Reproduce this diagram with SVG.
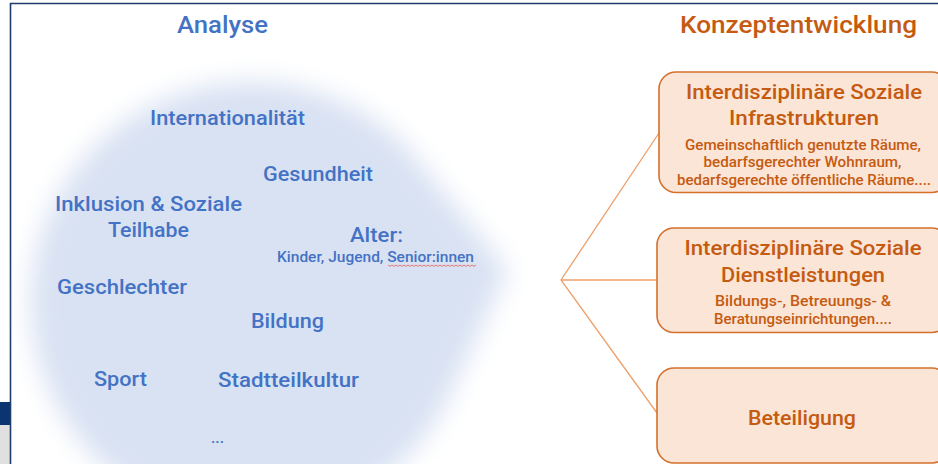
<svg xmlns="http://www.w3.org/2000/svg" width="938" height="464" viewBox="0 0 938 464">
<defs>
<filter id="soft" x="-20%" y="-20%" width="140%" height="140%">
<feGaussianBlur stdDeviation="13"/>
</filter>
<style>
text{font-family:Roboto,"Noto Sans","Liberation Sans",sans-serif;font-weight:500;text-anchor:middle}
.b{fill:#4472c4}
.o{fill:#c55a11}
.h{font-size:24px}
.m{font-size:21px}
.s{font-size:15.5px}
.box{fill:#fbe5d6;stroke:#d4702c;stroke-width:1.6}
.con{stroke:#eda06a;stroke-width:1.3;fill:none}
</style>
</defs>
<rect width="938" height="464" fill="#ffffff"/>
<!-- frame -->
<rect x="0" y="402" width="10" height="23" fill="#0b3570"/>
<rect x="0" y="425" width="10" height="39" fill="#e0e0e0"/>
<path d="M10.5 464 V3.5 H938" fill="none" stroke="#1f3c6e" stroke-width="1.6"/>
<!-- analysis blob -->
<g id="blob">
<path d="M508 270 L405 145 A220 220 0 1 0 445 405 Z" fill="#d9e2f3" filter="url(#soft)"/>
</g>
<g id="title-analyse"><text class="b h" x="222.5" y="33" textLength="91" lengthAdjust="spacingAndGlyphs">Analyse</text></g>
<g id="title-konzept"><text class="o h" x="798.5" y="33" textLength="237" lengthAdjust="spacingAndGlyphs">Konzeptentwicklung</text></g>
<g id="internationalitaet"><text class="b m" x="227.5" y="125" textLength="155" lengthAdjust="spacingAndGlyphs">Internationalität</text></g>
<g id="gesundheit"><text class="b m" x="318" y="180.5" textLength="110" lengthAdjust="spacingAndGlyphs">Gesundheit</text></g>
<g id="inklusion">
<text class="b m" x="148.5" y="210.5" textLength="187" lengthAdjust="spacingAndGlyphs">Inklusion &amp; Soziale</text>
<text class="b m" x="148.5" y="237" textLength="81" lengthAdjust="spacingAndGlyphs">Teilhabe</text>
</g>
<g id="alter">
<text class="b m" x="376.5" y="241.5" textLength="53" lengthAdjust="spacingAndGlyphs">Alter:</text>
<text class="b s" x="375.5" y="261.5" textLength="197" lengthAdjust="spacingAndGlyphs">Kinder, Jugend, Senior:innen</text>
<path d="M388 265 l2 1.4 l2 -1.4 l2 1.4 l2 -1.4 l2 1.4 l2 -1.4 l2 1.4 l2 -1.4 l2 1.4 l2 -1.4 l2 1.4 l2 -1.4 l2 1.4 l2 -1.4 l2 1.4 l2 -1.4 l2 1.4 l2 -1.4 l2 1.4 l2 -1.4 l2 1.4 l2 -1.4 l2 1.4 l2 -1.4 l2 1.4 l2 -1.4 l2 1.4 l2 -1.4 l2 1.4 l2 -1.4 l2 1.4 l2 -1.4 l2 1.4 l2 -1.4 l2 1.4 l2 -1.4 l2 1.4 l2 -1.4 l2 1.4 l2 -1.4 l2 1.4 l2 -1.4 l2 1.4 l2 -1.4" fill="none" stroke="#e85a5a" stroke-width="0.8"/>
</g>
<g id="geschlechter"><text class="b m" x="122" y="294" textLength="130" lengthAdjust="spacingAndGlyphs">Geschlechter</text></g>
<g id="bildung"><text class="b m" x="287.5" y="328" textLength="73" lengthAdjust="spacingAndGlyphs">Bildung</text></g>
<g id="sport"><text class="b m" x="120.5" y="386" textLength="53" lengthAdjust="spacingAndGlyphs">Sport</text></g>
<g id="stadtteilkultur"><text class="b m" x="288.5" y="387" textLength="141" lengthAdjust="spacingAndGlyphs">Stadtteilkultur</text></g>
<g id="etc"><text class="b s" x="217.5" y="443">...</text></g>
<!-- connectors -->
<g id="connectors">
<path class="con" d="M659 133 L561 280 L657 413"/>
<path class="con" d="M561 280 H657"/>
</g>
<g id="box-infrastrukturen">
<rect class="box" x="659" y="72" width="290" height="120.5" rx="17"/>
<text class="o m" x="804" y="99" textLength="236" lengthAdjust="spacingAndGlyphs">Interdisziplinäre Soziale</text>
<text class="o m" x="804" y="125" textLength="150" lengthAdjust="spacingAndGlyphs">Infrastrukturen</text>
<text class="o s" x="803" y="149.5" textLength="236" lengthAdjust="spacingAndGlyphs">Gemeinschaftlich genutzte Räume,</text>
<text class="o s" x="802.5" y="166.5" textLength="198" lengthAdjust="spacingAndGlyphs">bedarfsgerechter Wohnraum,</text>
<text class="o s" x="804" y="184.5" textLength="254" lengthAdjust="spacingAndGlyphs">bedarfsgerechte öffentliche Räume....</text>
</g>
<g id="box-dienstleistungen">
<rect class="box" x="657" y="228" width="292" height="104.5" rx="17"/>
<text class="o m" x="803" y="255" textLength="237" lengthAdjust="spacingAndGlyphs">Interdisziplinäre Soziale</text>
<text class="o m" x="803" y="282" textLength="164" lengthAdjust="spacingAndGlyphs">Dienstleistungen</text>
<text class="o s" x="803" y="306" textLength="176" lengthAdjust="spacingAndGlyphs">Bildungs-, Betreuungs- &amp;</text>
<text class="o s" x="803" y="323.5" textLength="178" lengthAdjust="spacingAndGlyphs">Beratungseinrichtungen....</text>
</g>
<g id="box-beteiligung">
<rect class="box" x="657" y="368" width="292" height="95" rx="17"/>
<text class="o m" x="802" y="424.5" textLength="108" lengthAdjust="spacingAndGlyphs">Beteiligung</text>
</g>
</svg>
